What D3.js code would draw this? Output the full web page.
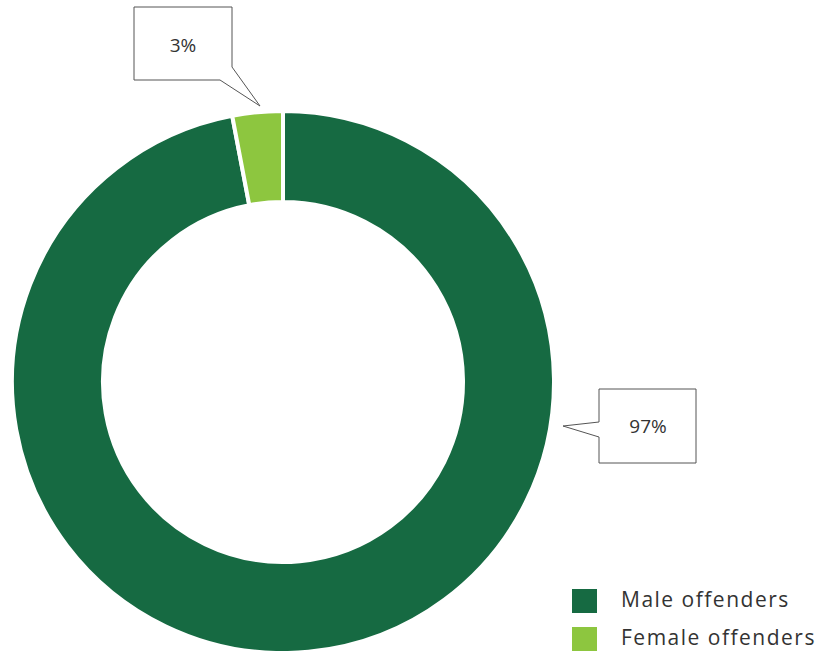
<!DOCTYPE html>
<html>
<head>
<meta charset="utf-8">
<script src="https://cdn.jsdelivr.net/npm/d3@7"></script>
<style>
  body { margin: 0; background: #fff; }
  svg { display: block; font-family: "Open Sans", Lato, sans-serif; }
</style>
</head>
<body>
<svg></svg>
<script>
var width = 825;
var height = 651;

var categories = ["Male offenders", "Female offenders"];
var values = [97, 3];
var labels = ["97%", "3%"];
var colors = ["#166a42", "#8dc63f"];

var svg = d3.select("svg")
            .attr("width", width)
            .attr("height", height);

var cx = 283, cy = 382;
// stroke eats 2px on each edge, so radii are padded a bit
var outerR = 271, innerR = 180;

var pie = d3.pie().sort(null).value(function(d) { return d; });
var arc = d3.arc().innerRadius(innerR).outerRadius(outerR);

var g = svg.append("g").attr("transform", "translate(" + cx + "," + cy + ")");

g.selectAll("path")
  .data(pie(values))
  .enter()
  .append("path")
  .attr("d", arc)
  .attr("fill", function(d, i) { return colors[i]; })
  .attr("stroke", "#fff")
  .attr("stroke-width", 4);

// callouts (speech boxes)
function callout(points, tx, ty, text) {
  svg.append("path")
     .attr("d", d3.line()(points) + "Z")
     .attr("fill", "#fff")
     .attr("stroke", "#555")
     .attr("stroke-width", 1);
  svg.append("text")
     .attr("x", tx)
     .attr("y", ty)
     .attr("text-anchor", "middle")
     .attr("dominant-baseline", "central")
     .attr("fill", "#333")
     .style("font-size", "19px")
     .text(text);
}

// 3% box, pointer to the bottom-right
callout([[134, 7], [232, 7], [232, 67], [260, 106], [220, 80], [134, 80]], 183, 45, labels[1]);
// 97% box, pointer to the left
callout([[599, 389], [696, 389], [696, 463], [599, 463], [599, 437], [563, 426], [599, 422]], 648, 426, labels[0]);

// legend
var legend = svg.selectAll(".legend")
  .data(categories)
  .enter()
  .append("g")
  .attr("class", "legend")
  .attr("transform", function(d, i) { return "translate(572," + (589 + i * 38) + ")"; });

legend.append("rect")
  .attr("width", 25)
  .attr("height", 24)
  .attr("fill", function(d, i) { return colors[i]; });

legend.append("text")
  .attr("x", 49)
  .attr("y", 10)
  .attr("dominant-baseline", "central")
  .attr("fill", "#333")
  .style("font-size", "21px")
  .style("letter-spacing", "1.5px")
  .text(function(d) { return d; });
</script>
</body>
</html>
